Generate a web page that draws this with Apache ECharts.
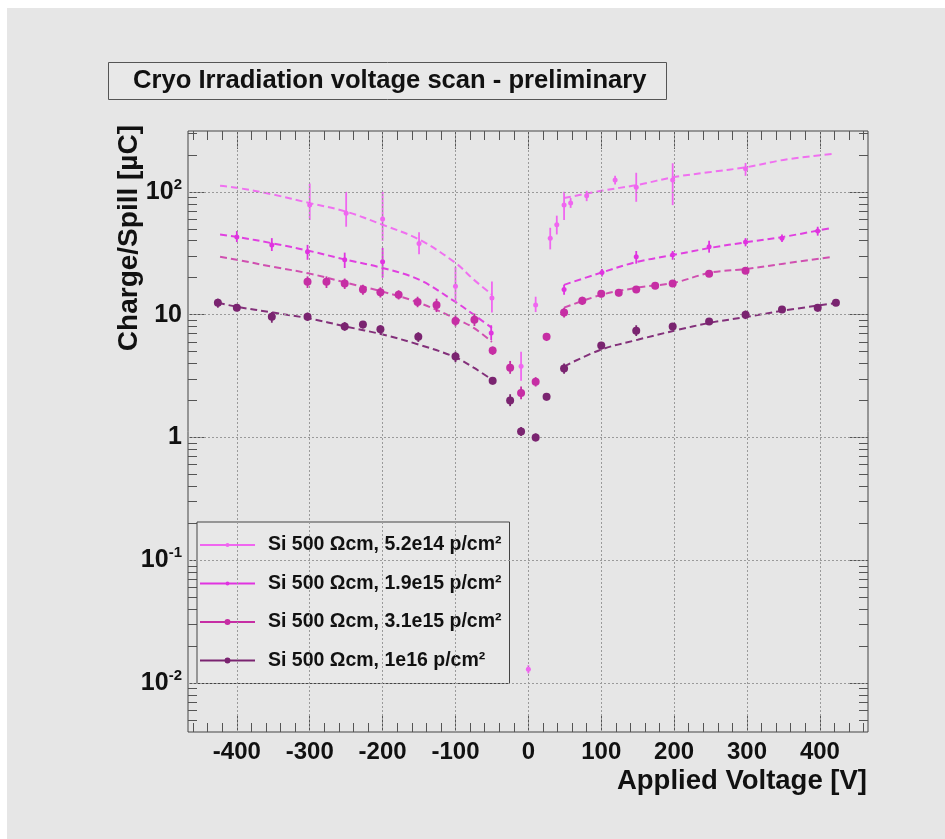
<!DOCTYPE html>
<html>
<head>
<meta charset="utf-8">
<script src="https://cdn.jsdelivr.net/npm/echarts@6/dist/echarts.min.js"></script>
<style>
  html, body { margin: 0; padding: 0; background: #ffffff; }
  #chart { position: absolute; left: 7px; top: 8px; width: 938px; height: 831px; background: #e6e6e6; }
</style>
</head>
<body>
<div id="chart"></div>
<script>
// ---- data: [voltage, charge, errLow, errHigh] ----
var names = [
  'Si 500 \u03A9cm, 5.2e14 p/cm\u00B2',
  'Si 500 \u03A9cm, 1.9e15 p/cm\u00B2',
  'Si 500 \u03A9cm, 3.1e15 p/cm\u00B2',
  'Si 500 \u03A9cm, 1e16 p/cm\u00B2'
];

var pts1 = [
  [-300, 78, 59, 117], [-250, 67, 52, 100], [-200, 60, 40, 100], [-150, 38, 31, 47],
  [-100, 17, 12.5, 24.5], [-50, 13.7, 10.4, 18.6], [-10, 3.8, 2.9, 5.0], [0, 0.013, 0.012, 0.014],
  [10, 12, 10.5, 14], [30, 42, 34, 51], [39, 54, 45, 64], [49, 78, 59, 100],
  [58, 81, 74, 89], [80, 93, 84, 102], [119, 125, 115, 135], [148, 109, 83, 143],
  [198, 125, 78, 171], [298, 154, 135, 172]
];
var pts2 = [
  [-400, 43, 39, 48], [-352, 37, 33, 42], [-303, 32.6, 28, 37], [-252, 28, 24, 32],
  [-200, 27, 20, 35], [-51, 7.1, 6.2, 8.2], [49, 16, 14.5, 17.5], [101, 22, 20.5, 23.5],
  [148, 29.6, 26, 33], [198, 30.7, 28, 33], [248, 35.7, 32, 40], [298, 39, 36, 42],
  [348, 42, 39, 45], [397, 48, 44, 52]
];
var pts3 = [
  [-303, 18.5, 16.5, 20.5], [-277, 18.5, 16.5, 20.5], [-252, 17.9, 16.2, 19.7], [-227, 16, 14.5, 17.5],
  [-203, 15.2, 13.8, 16.7], [-178, 14.5, 13.3, 15.8], [-152, 12.7, 11.5, 14], [-126, 12, 10.5, 13.5],
  [-100, 8.9, 8, 9.9], [-74, 9.1, 8.1, 10.2], [-49, 5.1, 4.7, 5.5], [-25, 3.7, 3.3, 4.2],
  [-10, 2.3, 2.05, 2.6], [10, 2.85, 2.6, 3.1], [25, 6.6, 6.1, 7.1], [49, 10.4, 9.5, 11.4],
  [74, 13, 12, 14], [100, 14.8, 13.8, 15.8], [124, 15.1, 14.1, 16.1], [148, 16, 15, 17],
  [174, 17.2, 16.2, 18.2], [198, 17.9, 16.8, 19], [248, 21.5, 20.3, 22.7], [298, 22.8, 21.5, 24]
];
var pts4 = [
  [-426, 12.5, 11.4, 13.5], [-400, 11.4, 10.7, 12.1], [-352, 9.6, 8.6, 10.5], [-303, 9.6, 8.9, 10.4],
  [-252, 8.0, 7.4, 8.7], [-227, 8.3, 7.7, 8.9], [-203, 7.6, 7.0, 8.2], [-151, 6.6, 6.0, 7.2],
  [-100, 4.56, 4.1, 5.0], [-49, 2.9, 2.7, 3.1], [-25, 2.0, 1.8, 2.25], [-10, 1.12, 1.03, 1.22],
  [10, 1.0, 0.93, 1.08], [25, 2.15, 2.0, 2.3], [49, 3.64, 3.3, 4.0], [100, 5.6, 5.2, 6.0],
  [148, 7.4, 6.7, 8.2], [198, 8.0, 7.5, 8.5], [248, 8.8, 8.3, 9.3], [298, 10.0, 9.2, 10.8],
  [348, 11, 10.4, 11.6], [397, 11.4, 10.6, 12.2], [422, 12.5, 11.8, 13.2]
];

// fit curves (dashed), negative and positive branch
var fit1L = [[-423, 112], [-400, 108], [-350, 95], [-300, 81], [-250, 69], [-200, 54], [-150, 41], [-100, 26.4], [-75, 19.3], [-50, 14.6]];
var fit1R = [[49, 89], [100, 102], [150, 114], [200, 132], [250, 145], [300, 159], [350, 182], [417, 204]];
var fit2L = [[-423, 45], [-400, 43], [-350, 38], [-300, 33], [-250, 28], [-200, 24], [-150, 19.3], [-100, 12.7], [-75, 10], [-50, 7.8]];
var fit2R = [[49, 17.5], [100, 22], [150, 27], [200, 30.7], [250, 35], [300, 39], [350, 43], [417, 51]];
var fit3L = [[-423, 29.6], [-400, 28], [-350, 24.5], [-300, 21.6], [-250, 18.2], [-200, 15.4], [-150, 12.5], [-100, 9.3], [-75, 7.8], [-50, 6.0]];
var fit3R = [[49, 11.4], [100, 14.5], [150, 16.6], [200, 18.2], [250, 22], [300, 23.6], [350, 26], [417, 29.6]];
var fit4L = [[-426, 12.5], [-400, 11.6], [-350, 10.4], [-300, 9.3], [-250, 8.0], [-200, 6.9], [-150, 5.7], [-100, 4.5], [-75, 3.7], [-50, 2.96]];
var fit4R = [[49, 3.8], [100, 5.2], [150, 6.25], [200, 7.4], [250, 8.6], [300, 9.6], [350, 10.8], [425, 12.5]];

// axis ticks
var xTicks = [-400, -300, -200, -100, 0, 100, 200, 300, 400];
var yTicks = [0.01, 0.1, 1, 10, 100];
var yTickText = { '0.01': '{b|10}{s|-2}', '0.1': '{b|10}{s|-1}', '1': '{b|1}', '10': '{b|10}', '100': '{b|10}{s|2}' };

var X_MIN = -467, X_MAX = 466, Y_MIN = 0.004, Y_MAX = 313;
var FONT = "'Liberation Sans', Arial, Helvetica, sans-serif";
var colors = ['#f066f0', '#e033e0', '#c62ea4', '#7a2470'];
var lineColors = ['#f070f0', '#e040e0', '#d050b0', '#83307a'];
var symSizes = [5, 5, 8, 8];

var xMinor = [];
for (var v = -460; v <= 460; v += 20) { if (v % 100 !== 0) xMinor.push(v); }
var yMinor = [];
for (var e = -3; e <= 2; e++) {
  for (var m = 2; m <= 9; m++) {
    var val = m * Math.pow(10, e);
    if (val > Y_MIN && val < Y_MAX) yMinor.push(+val.toPrecision(3));
  }
}

var chart = echarts.init(document.getElementById('chart'));
var tickColor = '#555';

function xAxisDef(pos, ticks, len, labels) {
  return {
    type: 'value', position: pos, min: X_MIN, max: X_MAX,
    axisLine: { show: false, onZero: false },
    axisTick: { inside: true, length: len, customValues: ticks, lineStyle: { color: tickColor, width: 1 } },
    axisLabel: labels ? {
      customValues: ticks, margin: 8, color: '#111', fontFamily: FONT, fontWeight: 'bold', fontSize: 24
    } : { show: false },
    splitLine: { show: false }
  };
}
function yAxisDef(pos, ticks, len, labels) {
  return {
    type: 'log', logBase: 10, position: pos, min: Y_MIN, max: Y_MAX,
    axisLine: { show: false, onZero: false },
    axisTick: { inside: true, length: len, customValues: ticks, lineStyle: { color: tickColor, width: 1 } },
    axisLabel: labels ? {
      customValues: ticks, margin: 6, color: '#111',
      formatter: function (v) {
        var k = String(+(+v).toPrecision(3));
        return yTickText[k] || ('{b|' + k + '}');
      },
      rich: {
        b: { fontFamily: FONT, fontWeight: 'bold', fontSize: 25, color: '#111', lineHeight: 30 },
        s: { fontFamily: FONT, fontWeight: 'bold', fontSize: 15, color: '#111', lineHeight: 30, verticalAlign: 'top', padding: [0, 0, 10, 0] }
      }
    } : { show: false },
    splitLine: { show: false }
  };
}

var series = [];
// dotted grid lines
series.push({
  type: 'line', data: [], z: 1, silent: true,
  markLine: {
    silent: true, symbol: ['none', 'none'], label: { show: false }, animation: false,
    lineStyle: { color: '#9a9a9a', type: [2, 2], width: 1 },
    data: xTicks.map(function (t) { return { xAxis: t }; })
      .concat(yTicks.map(function (t) { return { yAxis: t }; }))
  }
});
var pts = [pts1, pts2, pts3, pts4];
var fits = [[fit1L, fit1R], [fit2L, fit2R], [fit3L, fit3R], [fit4L, fit4R]];
for (var i = 0; i < 4; i++) {
  (function (i) {
    fits[i].forEach(function (f) {
      series.push({
        type: 'line', data: f, smooth: 0.35, symbol: 'none', z: 3, silent: true,
        lineStyle: { color: lineColors[i], width: 2, type: [7, 4] }
      });
    });
    series.push({
      type: 'custom', data: pts[i], z: 4, silent: true,
      encode: { x: 0, y: 1 },
      renderItem: function (params, api) {
        var x = api.value(0);
        var lo = api.coord([x, api.value(2)]);
        var hi = api.coord([x, api.value(3)]);
        return {
          type: 'line',
          shape: { x1: lo[0], y1: lo[1], x2: hi[0], y2: hi[1] },
          style: { stroke: colors[i], lineWidth: 1.8 }
        };
      }
    });
    series.push({
      name: names[i], type: 'scatter', z: 5,
      data: pts[i].map(function (p) { return [p[0], p[1]]; }),
      symbol: 'circle', symbolSize: symSizes[i],
      itemStyle: { color: colors[i], opacity: 1 }
    });
  })(i);
}

var iconSmall = 'path://M0,4H55V6H0Z M25.5,5A2,2 0 1,1 29.5,5A2,2 0 1,1 25.5,5Z';
var iconBig = 'path://M0,4H55V6H0Z M24.5,5A3,3 0 1,1 30.5,5A3,3 0 1,1 24.5,5Z';

var option = {
  backgroundColor: '#e6e6e6',
  animation: false,
  title: {
    text: 'Cryo Irradiation voltage scan - preliminary',
    left: 101, top: 54,
    padding: [6, 20, 6, 25],
    borderColor: '#555', borderWidth: 1, backgroundColor: '#e8e8e8',
    textStyle: { fontFamily: FONT, fontWeight: 'bold', fontSize: 25.6, color: '#111' }
  },
  grid: {
    left: 181, right: 77, top: 123, bottom: 107,
    show: true, borderColor: '#444', borderWidth: 1, backgroundColor: 'transparent'
  },
  legend: {
    orient: 'vertical', left: 190, top: 514,
    padding: [13, 8, 13, 3],
    itemWidth: 55, itemHeight: 6, itemGap: 18.5,
    borderColor: '#444', borderWidth: 1, backgroundColor: '#e8e8e8',
    textStyle: { fontFamily: FONT, fontWeight: 'bold', fontSize: 19.5, color: '#111', lineHeight: 20, padding: [0, 0, 0, 8] },
    data: [
      { name: names[0], icon: iconSmall },
      { name: names[1], icon: iconSmall },
      { name: names[2], icon: iconBig },
      { name: names[3], icon: iconBig }
    ],
    selectedMode: false
  },
  xAxis: [
    xAxisDef('bottom', xTicks, 18, true),
    xAxisDef('bottom', xMinor, 9, false),
    xAxisDef('top', xTicks, 18, false),
    xAxisDef('top', xMinor, 9, false)
  ],
  yAxis: [
    yAxisDef('left', yTicks, 18, true),
    yAxisDef('left', yMinor, 9, false),
    yAxisDef('right', yTicks, 18, false),
    yAxisDef('right', yMinor, 9, false)
  ],
  graphic: [
    {
      type: 'text', x: 122, y: 117, rotation: Math.PI / 2,
      style: {
        text: 'Charge/Spill [\u00B5C]', fill: '#111', align: 'right', verticalAlign: 'middle',
        font: 'bold 28px ' + FONT
      }
    },
    {
      type: 'text', x: 860, y: 773,
      style: {
        text: 'Applied Voltage [V]', fill: '#111', align: 'right', verticalAlign: 'middle',
        font: 'bold 27.5px ' + FONT
      }
    }
  ],
  series: series
};

chart.setOption(option);
window.addEventListener('resize', function () { chart.resize(); });
</script>
</body>
</html>
